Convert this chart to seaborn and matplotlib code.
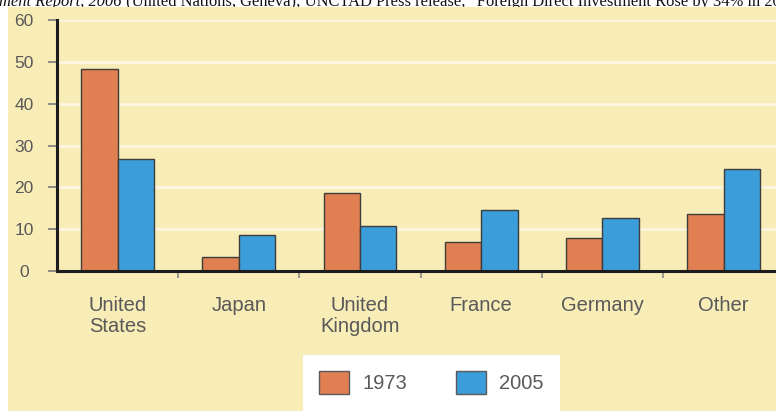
import matplotlib
matplotlib.use("Agg")
import matplotlib.pyplot as plt
import seaborn as sns
import pandas as pd
from matplotlib.patches import Rectangle

# ---------------- data ----------------
categories = ["United\nStates", "Japan", "United\nKingdom", "France", "Germany", "Other"]
years = ["1973", "2005"]
share_1973 = [48.3, 3.3, 18.7, 7.0, 7.9, 13.6]
share_2005 = [26.7, 8.6, 10.8, 14.7, 12.7, 24.4]
y_ticks = [0, 10, 20, 30, 40, 50, 60]
source_italic = "ment Report, 2006"
source_roman = (" (United Nations, Geneva); UNCTAD Press release, "
                "\u201cForeign Direct Investment Rose by 34% in 2006\u201d")

df = pd.DataFrame({
    "country": categories * 2,
    "year": [years[0]] * len(categories) + [years[1]] * len(categories),
    "share": share_1973 + share_2005,
})

# ---------------- style ----------------
sns.set_theme(style="white")
plt.rcParams["font.family"] = ["Liberation Sans", "DejaVu Sans"]

BG = "#F8ECB7"
ORANGE = "#E08052"
BLUE = "#3B9DD9"
TXT = "#595959"

W, H = 776, 411
fig = plt.figure(figsize=(W / 100, H / 100), dpi=100)
fig.patch.set_facecolor("white")


def fx(px):
    return px / W


def fy(py):
    return 1 - py / H


SRC_FS = 11.9
# source line (clipped at the top of the picture, as in the reference)
t1 = fig.text(fx(-1), fy(6), source_italic, fontfamily="Liberation Serif",
              style="italic", fontsize=SRC_FS, va="baseline", ha="left",
              color="#111111", zorder=0)

# yellow panel
fig.patches.append(Rectangle((fx(8), 0), 1 - fx(8), fy(7),
                             transform=fig.transFigure, facecolor=BG,
                             edgecolor="none", zorder=1))
# white legend box
fig.patches.append(Rectangle((fx(303), 0), fx(560) - fx(303), fy(355),
                             transform=fig.transFigure, facecolor="white",
                             edgecolor="none", zorder=2))

ax = fig.add_axes([fx(57), fy(271), 1 - fx(57), fy(20) - fy(271)])
ax.set_zorder(3)
ax.set_facecolor("none")

sns.barplot(data=df, x="country", y="share", hue="year",
            palette=[ORANGE, BLUE], width=0.6, saturation=1,
            edgecolor="#3d3d3d", linewidth=1.0, errorbar=None, ax=ax)

handles, labels = ax.get_legend_handles_labels()
if ax.get_legend() is not None:
    ax.get_legend().remove()

ax.set_xlim(-0.5, -0.5 + 719 / 121.2)
ax.set_ylim(0, 60)
ax.set_xlabel("")
ax.set_ylabel("")

# grid
ax.set_axisbelow(True)
ax.yaxis.grid(True, color="#FDF7E2", linewidth=2.0)
ax.xaxis.grid(False)

# spines
for s in ["top", "right"]:
    ax.spines[s].set_visible(False)
for s in ["left", "bottom"]:
    ax.spines[s].set_visible(True)
    ax.spines[s].set_color("#1c1c1c")
    ax.spines[s].set_linewidth(2.2)

# y ticks
ax.set_yticks(y_ticks)
ax.set_yticklabels([str(v) for v in y_ticks])
ax.tick_params(axis="y", which="major", direction="out", length=6.5,
               width=1.2, color="#7a7a7a", labelsize=12.5,
               labelcolor=TXT, pad=17.3, left=True)
for lab in ax.get_yticklabels():
    lab.set_ha("center")

# x ticks: labels at centres, marks at boundaries
ax.set_xticks(range(len(categories)))
ax.set_xticklabels(categories)
ax.set_xticks([i + 0.5 for i in range(len(categories) - 1)], minor=True)
ax.tick_params(axis="x", which="major", length=0, labelsize=14.5,
               labelcolor=TXT, pad=18)
ax.tick_params(axis="x", which="minor", direction="out", length=5,
               width=1.2, color="#8a8a8a", bottom=True)
for lab in ax.get_xticklabels():
    lab.set_linespacing(1.15)

# legend
for h in handles:
    try:
        h.set_edgecolor("#5a5a5a")
        h.set_linewidth(1.0)
    except Exception:
        pass
leg = fig.legend(handles, labels, loc="center",
                 bbox_to_anchor=(fx(431.5), fy(382.5)), ncol=2,
                 frameon=False, fontsize=14.5, handlelength=1.49,
                 handleheight=1.44, handletextpad=0.65, columnspacing=2.44,
                 labelcolor=TXT, borderpad=0, borderaxespad=0)
leg.set_zorder(4)

# place roman part of the source line after the italic part
fig.canvas.draw()
r = fig.canvas.get_renderer()
bb = t1.get_window_extent(renderer=r)
fig.text(bb.x1 / W, fy(6), source_roman, fontfamily="Liberation Serif",
         fontsize=SRC_FS, va="baseline", ha="left", color="#111111", zorder=0)

fig.savefig("out.png", dpi=100, facecolor="white")
